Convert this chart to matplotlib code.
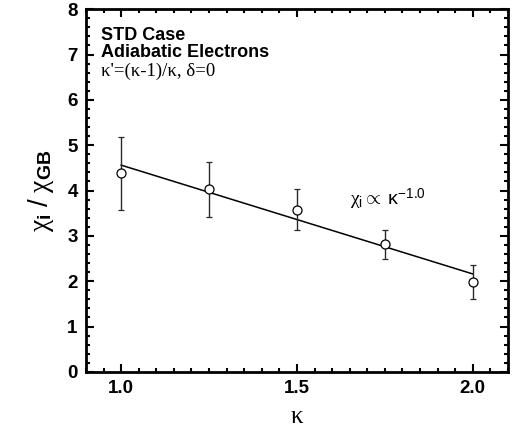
import numpy as np
import matplotlib
matplotlib.use('Agg')
import matplotlib.pyplot as plt
from matplotlib.ticker import MultipleLocator

# data
kappa = [1.0, 1.25, 1.5, 1.75, 2.0]
chi = [4.38, 4.03, 3.57, 2.81, 1.98]
err_lo = [3.57, 3.42, 3.12, 2.50, 1.60]
err_hi = [5.18, 4.64, 4.03, 3.12, 2.36]
fit_x = [1.0, 2.0]
fit_y = [4.56, 2.16]

plt.rcParams['font.family'] = ['Liberation Sans', 'DejaVu Sans']
plt.rcParams['mathtext.fontset'] = 'custom'
plt.rcParams['mathtext.rm'] = 'Liberation Serif'
plt.rcParams['mathtext.sf'] = 'Liberation Sans'
plt.rcParams['mathtext.bf'] = 'Liberation Sans:bold'
plt.rcParams['mathtext.it'] = 'Liberation Serif:italic'

fig = plt.figure(figsize=(5.12, 4.38), dpi=100)
ax = fig.add_axes([0.168, 0.151, 0.824, 0.828])

yerr = [np.array(chi) - np.array(err_lo), np.array(err_hi) - np.array(chi)]
ax.errorbar(kappa, chi, yerr=yerr, fmt='o', color='black', mfc='white', mec='black',
            ms=6.5, mew=0.9, ecolor='#2a2a2a', elinewidth=1.0, capsize=2.5, capthick=1.0, zorder=3)
ax.plot(fit_x, fit_y, color='black', lw=1.1, zorder=2)

ax.set_xlim(0.9, 2.1)
ax.set_ylim(0, 8)
ax.xaxis.set_minor_locator(MultipleLocator(0.05))
ax.yaxis.set_major_locator(MultipleLocator(1))
ax.yaxis.set_minor_locator(MultipleLocator(0.2))
ax.set_xticks([1.0, 1.5, 2.0])
ax.set_xticklabels(['1.0', '1.5', '2.0'])
ax.tick_params(which='both', direction='in', top=True, right=True, width=1.5)
ax.tick_params(which='major', length=6, labelsize=13.5, pad=6)
ax.tick_params(which='minor', length=3)
for lab in ax.get_xticklabels() + ax.get_yticklabels():
    lab.set_fontweight('bold')
for s in ax.spines.values():
    s.set_linewidth(2)

ax.set_xlabel('κ', family=['Liberation Serif'], fontsize=18, labelpad=6)
ax.set_ylabel(r'$\mathrm{\chi}_\mathbf{i}\ \mathsf{/}\ \mathrm{\chi}_\mathbf{GB}$', fontsize=20, labelpad=8)

ax.text(0.035, 0.952, 'STD Case', transform=ax.transAxes, fontsize=13,
        fontweight='bold', va='top')
ax.text(0.035, 0.903, 'Adiabatic Electrons', transform=ax.transAxes, fontsize=13,
        fontweight='bold', va='top')
ax.text(0.035, 0.853, "κ'=(κ-1)/κ, δ=0", transform=ax.transAxes, fontsize=13.5,
        family=['Liberation Serif'], va='top')
ax.text(1.65, 3.68, r'$\mathrm{\chi}_\mathsf{i} \propto\ \mathsf{\kappa}^\mathsf{-1.0}$', fontsize=14)

fig.savefig('out.png', dpi=100)
